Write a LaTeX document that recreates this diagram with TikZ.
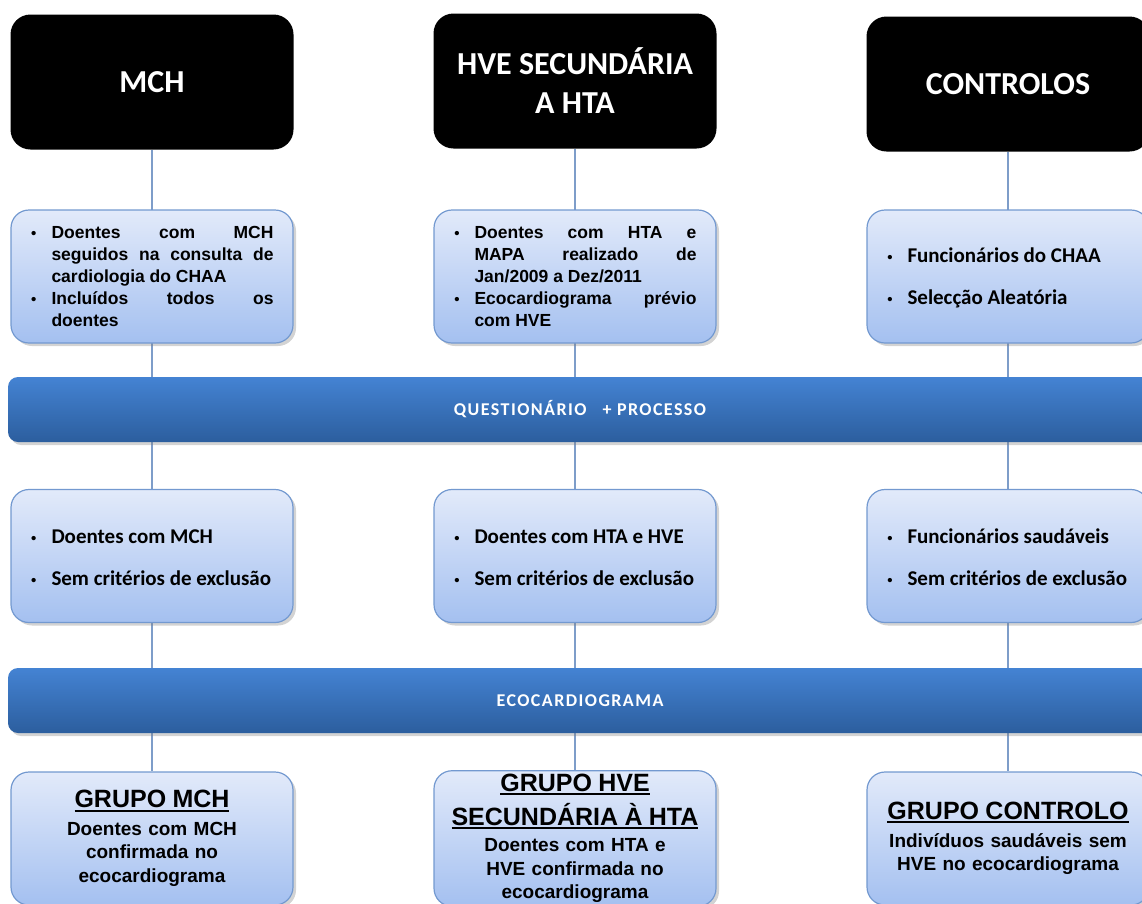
\documentclass[tikz,border=0pt]{standalone}
\usepackage{fontspec}
\setmainfont{Liberation Sans}
\newfontfamily\calibri{Carlito}
\newfontfamily\bandfont[LetterSpace=8]{Carlito}
\usepackage{enumitem}
\usetikzlibrary{shadows,backgrounds}

\definecolor{boxtop}{HTML}{E2EAFA}
\definecolor{boxbot}{HTML}{A4C0F0}
\definecolor{boxline}{HTML}{7399D0}
\definecolor{bandtop}{HTML}{4483D3}
\definecolor{bandbot}{HTML}{2C5E9E}
\definecolor{linkline}{HTML}{7E9DC9}

\setlist[itemize]{label={\fontsize{15}{15}\fontspec{Liberation Sans}\textbullet}, leftmargin=21pt, labelsep=15pt, nosep}
\newcommand{\grptitle}[1]{\leavevmode\vtop{\hbox{\fontsize{25}{31}\selectfont #1}\kern1.5pt\hrule height 2pt}}
\newcommand{\listgap}[1]{\par\vspace{#1}}

\begin{document}
\begin{tikzpicture}[x=1pt, y=-1pt,
    head node/.style={rectangle, rounded corners=20pt, fill=black, minimum width=283pt, minimum height=135pt,
                      text=white, align=center, font=\calibri\bfseries\fontsize{32}{39}\selectfont},
    info node/.style={rectangle, rounded corners=18pt, draw=boxline, line width=1.2pt, top color=boxtop, bottom color=boxbot,
                      minimum width=282pt, minimum height=133pt, text width=243pt, align=justify,
                      drop shadow={shadow xshift=3pt, shadow yshift=-3pt, opacity=0.35}},
    arial list/.style={info node, font=\bfseries\fontsize{17.5}{22}\selectfont, execute at end node={\listgap{10pt}}},
    calibri list/.style={info node, font=\calibri\bfseries\fontsize{21}{24}\selectfont, execute at end node={\listgap{6pt}}},
    group node/.style={info node, text width=270pt, align=center, font=\bfseries\fontsize{19}{23.5}\selectfont},
    band node/.style={rectangle, rounded corners=10pt, top color=bandtop, bottom color=bandbot, minimum width=1144pt,
                      minimum height=65pt, text=white, font=\bandfont\bfseries\fontsize{18}{22}\selectfont,
                      drop shadow={shadow xshift=3pt, shadow yshift=-3pt, opacity=0.35}},
    link/.style={draw=linkline, line width=1.3pt}]

  \useasboundingbox (0,0) rectangle (1142,903);

  % headers
  \node[head node] (h1) at (152,82) {MCH};
  \node[head node] (h2) at (575,81) {HVE SECUNDÁRIA\\A HTA};
  \node[head node] (h3) at (1008,84) {CONTROLOS};

  % inclusion
  \node[arial list] (a1) at (152,276.5) {\begin{itemize}
      \item Doentes com MCH\linebreak seguidos na consulta de\linebreak cardiologia do CHAA
      \item Incluídos todos os\linebreak doentes
    \end{itemize}};
  \node[arial list] (a2) at (575,276.5) {\begin{itemize}
      \item Doentes com HTA e\linebreak MAPA realizado de\linebreak Jan/2009 a Dez/2011
      \item Ecocardiograma prévio\linebreak com HVE
    \end{itemize}};
  \node[calibri list] (a3) at (1008,276.5) {\begin{itemize}[itemsep=18pt]
      \item Funcionários do CHAA
      \item Selecção Aleatória
    \end{itemize}};

  \node[band node] (q) at (580,409.5) {QUESTIONÁRIO\hspace{16pt}+ PROCESSO};

  % exclusion
  \node[calibri list] (b1) at (152,556) {\begin{itemize}[itemsep=18pt]
      \item Doentes com MCH
      \item Sem critérios de exclusão
    \end{itemize}};
  \node[calibri list] (b2) at (575,556) {\begin{itemize}[itemsep=18pt]
      \item Doentes com HTA e HVE
      \item Sem critérios de exclusão
    \end{itemize}};
  \node[calibri list] (b3) at (1008,556) {\begin{itemize}[itemsep=18pt]
      \item Funcionários saudáveis
      \item Sem critérios de exclusão
    \end{itemize}};

  \node[band node] (e) at (580,700.5) {ECOCARDIOGRAMA};

  % groups
  \node[group node] (g1) at (152,838.5) {\grptitle{GRUPO MCH}\\[4pt] Doentes com MCH\\ confirmada no\\ ecocardiograma};
  \node[group node] (g2) at (575,838.5) {\grptitle{GRUPO HVE}\\[7pt] \grptitle{SECUNDÁRIA À HTA}\\[3pt]
      Doentes com HTA e\\ HVE confirmada no\\ ecocardiograma};
  \node[group node] (g3) at (1008,838.5) {\grptitle{GRUPO CONTROLO}\\[4pt] Indivíduos saudáveis sem\\ HVE no ecocardiograma};

  \begin{scope}[on background layer]
    \path[link] (h1) edge (g1)
                (h2) edge (g2)
                (h3) edge (g3);
  \end{scope}
\end{tikzpicture}
\end{document}
